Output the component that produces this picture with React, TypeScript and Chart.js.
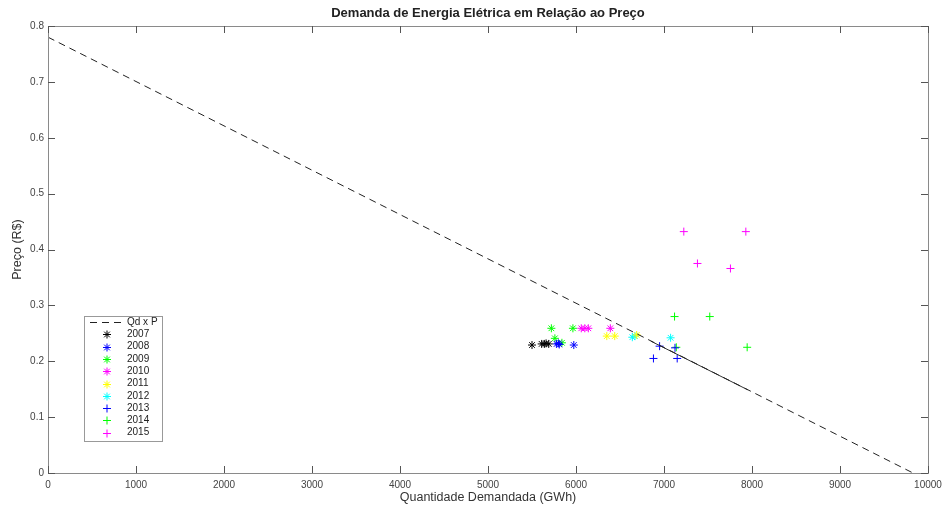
import React, { useEffect, useRef } from "react";
import { Chart, registerables } from "chart.js";

Chart.register(...registerables);

const TITLE = "Demanda de Energia Elétrica em Relação ao Preço";
const X_TITLE = "Quantidade Demandada (GWh)";
const Y_TITLE = "Preço (R$)";

const xTicks = [0, 1000, 2000, 3000, 4000, 5000, 6000, 7000, 8000, 9000, 10000];
const yTicks = [0, 0.1, 0.2, 0.3, 0.4, 0.5, 0.6, 0.7, 0.8];

// Demand curve Qd x P
const curveX = [0, 9830];
const curveY = [0.78, 0];
const curveSolidX = [6850, 7950];
const curveSolidY = [0.236, 0.149];

const years = ["2007", "2008", "2009", "2010", "2011", "2012", "2013", "2014", "2015"];
const yearColors = ["#000000", "#0000ff", "#00ff00", "#ff00ff", "#ffff00", "#00ffff", "#0000ff", "#00ff00", "#ff00ff"];
const yearMarkers = ["star", "star", "star", "star", "star", "star", "cross", "cross", "cross"];

const x2007 = [5500, 5610, 5640, 5660, 5690];
const y2007 = [0.229, 0.231, 0.231, 0.232, 0.231];
const x2008 = [5780, 5800, 5810, 5975];
const y2008 = [0.231, 0.232, 0.230, 0.229];
const x2009 = [5720, 5965, 5760, 5840];
const y2009 = [0.259, 0.259, 0.241, 0.233];
const x2010 = [6060, 6100, 6140, 6390];
const y2010 = [0.259, 0.259, 0.259, 0.259];
const x2011 = [6350, 6440, 6690];
const y2011 = [0.245, 0.245, 0.247];
const x2012 = [6640, 6670, 7075];
const y2012 = [0.243, 0.245, 0.242];
const x2013 = [6950, 7125, 6880, 7150];
const y2013 = [0.227, 0.224, 0.205, 0.205];
const x2014 = [7120, 7520, 7140, 7945];
const y2014 = [0.280, 0.280, 0.225, 0.225];
const x2015 = [7225, 7930, 7380, 7755];
const y2015 = [0.432, 0.432, 0.375, 0.366];

const yearX = [x2007, x2008, x2009, x2010, x2011, x2012, x2013, x2014, x2015];
const yearY = [y2007, y2008, y2009, y2010, y2011, y2012, y2013, y2014, y2015];

const FONT = "'Liberation Sans', Arial, Helvetica, sans-serif";

function drawMarker(ctx: CanvasRenderingContext2D, style: string, x: number, y: number, r: number, color: string) {
  ctx.save();
  ctx.strokeStyle = color;
  ctx.lineWidth = 1;
  ctx.beginPath();
  ctx.moveTo(x - r, y);
  ctx.lineTo(x + r, y);
  ctx.moveTo(x, y - r);
  ctx.lineTo(x, y + r);
  if (style === "star") {
    const d = r * Math.SQRT1_2;
    ctx.moveTo(x - d, y - d);
    ctx.lineTo(x + d, y + d);
    ctx.moveTo(x - d, y + d);
    ctx.lineTo(x + d, y - d);
  }
  ctx.stroke();
  ctx.restore();
}

const decorPlugin = {
  id: "decor",
  afterDraw(chart: any) {
    const ctx: CanvasRenderingContext2D = chart.ctx;
    const a = chart.chartArea;
    const xs = chart.scales.x;
    const ys = chart.scales.y;
    ctx.save();
    // box
    ctx.strokeStyle = "#8a8a8a";
    ctx.lineWidth = 1;
    ctx.strokeRect(Math.round(a.left) + 0.5, Math.round(a.top) + 0.5, Math.round(a.right - a.left), Math.round(a.bottom - a.top));
    // inward ticks
    ctx.strokeStyle = "#555";
    ctx.beginPath();
    const tl = 7;
    xTicks.forEach((v) => {
      const px = Math.round(xs.getPixelForValue(v)) + 0.5;
      ctx.moveTo(px, a.bottom);
      ctx.lineTo(px, a.bottom - tl);
      ctx.moveTo(px, a.top);
      ctx.lineTo(px, a.top + tl);
    });
    yTicks.forEach((v) => {
      const py = Math.round(ys.getPixelForValue(v)) + 0.5;
      ctx.moveTo(a.left, py);
      ctx.lineTo(a.left + tl, py);
      ctx.moveTo(a.right, py);
      ctx.lineTo(a.right - tl, py);
    });
    ctx.stroke();

    // titles
    ctx.fillStyle = "#222";
    ctx.textAlign = "center";
    ctx.textBaseline = "middle";
    ctx.font = `bold 13px ${FONT}`;
    ctx.fillText(TITLE, (a.left + a.right) / 2, 13);
    ctx.font = `12.5px ${FONT}`;
    ctx.fillStyle = "#333";
    ctx.fillText(X_TITLE, (a.left + a.right) / 2, 498);
    ctx.save();
    ctx.translate(18, (a.top + a.bottom) / 2);
    ctx.rotate(-Math.PI / 2);
    ctx.fillText(Y_TITLE, 0, 0);
    ctx.restore();

    // legend
    const lx = 84, ly = 316, lw = 78, lh = 125;
    ctx.fillStyle = "#ffffff";
    ctx.fillRect(lx, ly, lw, lh);
    ctx.strokeStyle = "#999";
    ctx.strokeRect(lx + 0.5, ly + 0.5, lw, lh);
    ctx.font = `10px ${FONT}`;
    ctx.textAlign = "left";
    ctx.fillStyle = "#222";
    const rowH = 12.3;
    const row0 = 322;
    ctx.save();
    ctx.strokeStyle = "#222";
    ctx.setLineDash([7, 5]);
    ctx.beginPath();
    ctx.moveTo(90, row0 + 0.5);
    ctx.lineTo(125, row0 + 0.5);
    ctx.stroke();
    ctx.restore();
    ctx.fillText("Qd x P", 127, row0);
    years.forEach((yr, i) => {
      const yy = row0 + rowH * (i + 1);
      drawMarker(ctx, yearMarkers[i], 107, Math.round(yy) + 0.5, 4, yearColors[i]);
      ctx.fillStyle = "#222";
      ctx.fillText(yr, 127, yy);
    });
    ctx.restore();
  },
};

export default function App() {
  const ref = useRef<HTMLCanvasElement>(null);
  useEffect(() => {
    document.body.style.margin = "0";
    const canvas = ref.current!;
    const datasets: any[] = [
      {
        label: "Qd x P",
        data: curveX.map((x, i) => ({ x, y: curveY[i] })),
        showLine: true,
        borderColor: "#222",
        borderWidth: 1,
        borderDash: [7, 5],
        pointRadius: 0,
        fill: false,
      },
      {
        label: "Qd x P (dense)",
        data: curveSolidX.map((x, i) => ({ x, y: curveSolidY[i] })),
        showLine: true,
        borderColor: "#333",
        borderWidth: 1,
        pointRadius: 0,
        fill: false,
      },
    ];
    years.forEach((yr, i) => {
      datasets.push({
        label: yr,
        data: yearX[i].map((x, j) => ({ x, y: yearY[i][j] })),
        showLine: false,
        pointStyle: yearMarkers[i],
        pointRadius: 4,
        pointBorderWidth: 1,
        borderColor: yearColors[i],
        backgroundColor: yearColors[i],
      });
    });
    const chart = new Chart(canvas, {
      type: "scatter",
      data: { datasets },
      options: {
        responsive: false,
        animation: false,
        events: [],
        layout: { padding: { left: 0, right: 16, top: 26, bottom: 0 } },
        plugins: { legend: { display: false }, title: { display: false }, tooltip: { enabled: false } },
        scales: {
          x: {
            type: "linear",
            min: 0,
            max: 10000,
            afterBuildTicks: (s: any) => {
              s.ticks = xTicks.map((v) => ({ value: v }));
            },
            afterFit: (s: any) => {
              s.height = 35;
              s.paddingLeft = 0;
              s.paddingRight = 0;
            },
            grid: { display: false, drawTicks: false },
            border: { display: false },
            ticks: {
              padding: 6,
              color: "#444",
              font: { size: 10, family: FONT },
              maxRotation: 0,
              autoSkip: false,
              callback: (v: any) => String(v),
            },
          },
          y: {
            type: "linear",
            min: 0,
            max: 0.8,
            afterBuildTicks: (s: any) => {
              s.ticks = yTicks.map((v) => ({ value: v }));
            },
            afterFit: (s: any) => {
              s.width = 48;
              s.paddingTop = 0;
              s.paddingBottom = 0;
            },
            grid: { display: false, drawTicks: false },
            border: { display: false },
            ticks: {
              padding: 4,
              color: "#444",
              font: { size: 10, family: FONT },
              autoSkip: false,
              callback: (v: any) => (v === 0 ? "0" : Number(v).toFixed(1)),
            },
          },
        },
      },
      plugins: [decorPlugin],
    } as any);
    return () => chart.destroy();
  }, []);
  return <canvas ref={ref} width={944} height={508} style={{ display: "block" }} />;
}
